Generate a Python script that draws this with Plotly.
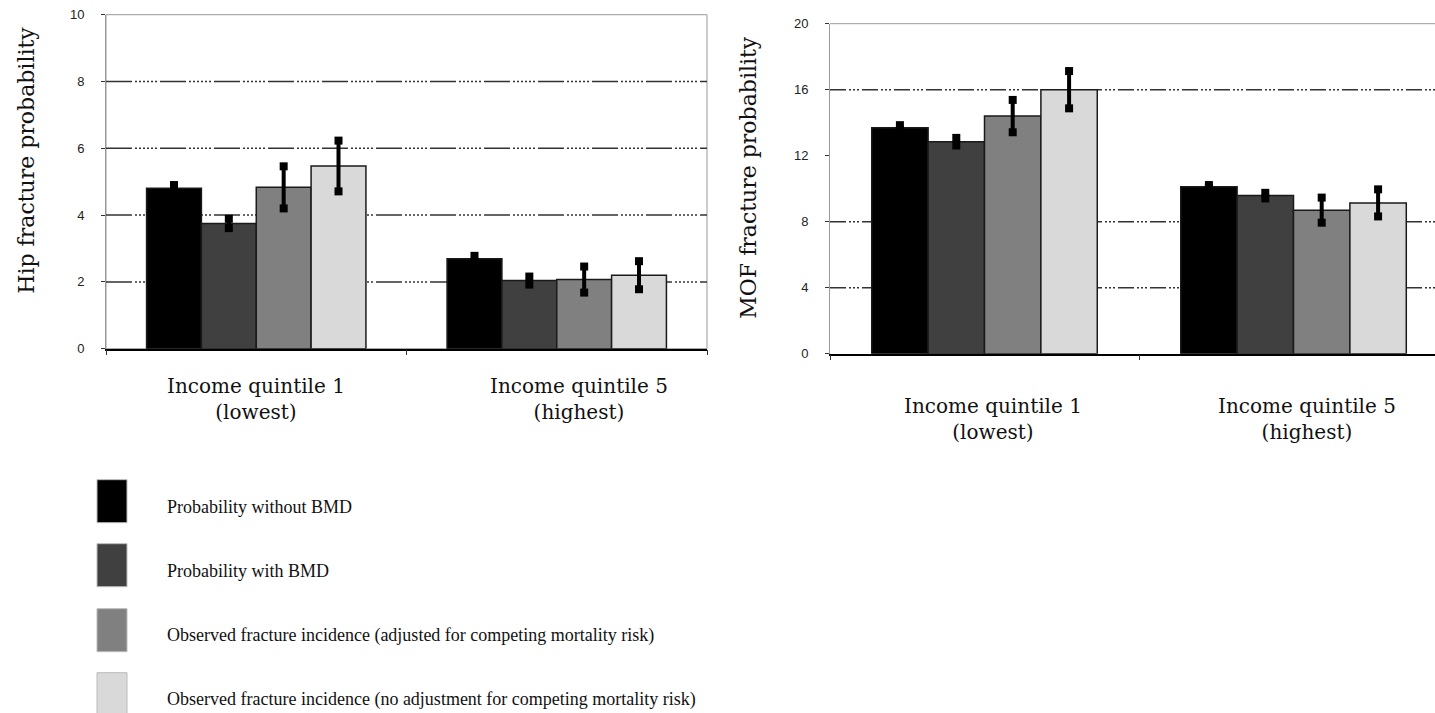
import plotly.graph_objects as go

# ---------------- data ----------------
categories = ["Income quintile 1<br>(lowest)", "Income quintile 5<br>(highest)"]
series_names = [
    "Probability without BMD",
    "Probability with BMD",
    "Observed fracture incidence (adjusted for competing mortality risk)",
    "Observed fracture incidence (no adjustment for competing mortality risk)",
]
series_colors = ["#000000", "#404040", "#808080", "#d9d9d9"]

hip_without_bmd = [4.80, 2.69]
hip_without_bmd_err = [0.10, 0.09]
hip_with_bmd = [3.75, 2.04]
hip_with_bmd_err = [0.14, 0.12]
hip_obs_adj = [4.83, 2.07]
hip_obs_adj_err = [0.63, 0.39]
hip_obs_noadj = [5.47, 2.20]
hip_obs_noadj_err = [0.76, 0.42]

mof_without_bmd = [13.70, 10.12]
mof_without_bmd_err = [0.15, 0.10]
mof_with_bmd = [12.85, 9.58]
mof_with_bmd_err = [0.23, 0.17]
mof_obs_adj = [14.40, 8.70]
mof_obs_adj_err = [0.98, 0.76]
mof_obs_noadj = [16.00, 9.14]
mof_obs_noadj_err = [1.13, 0.82]

hip_ticks = [0, 2, 4, 6, 8, 10]
mof_ticks = [0, 4, 8, 12, 16, 20]
hip_grid = [2, 4, 6, 8]
mof_grid = [4, 8, 16]

hip_series = [
    (hip_without_bmd, hip_without_bmd_err),
    (hip_with_bmd, hip_with_bmd_err),
    (hip_obs_adj, hip_obs_adj_err),
    (hip_obs_noadj, hip_obs_noadj_err),
]
mof_series = [
    (mof_without_bmd, mof_without_bmd_err),
    (mof_with_bmd, mof_with_bmd_err),
    (mof_obs_adj, mof_obs_adj_err),
    (mof_obs_noadj, mof_obs_noadj_err),
]

# ---------------- layout helpers ----------------
W, H = 1435, 713
# vertical correction for the rendering (observed y' = 7.3 + 0.979*y)
V_OFF, V_SCALE = 7.3, 0.979


def px(x):
    return x / W


def py(y):
    y_spec = (y - V_OFF) / V_SCALE
    return 1 - y_spec / H


SERIF = "DejaVu Serif"
LEGEND_FONT = "Liberation Serif"
TICK_FONT = "Liberation Sans Narrow, Liberation Sans, Arial"

fig = go.Figure()


def add_panel(series, xa, ya):
    for i, (name, color) in enumerate(zip(series_names, series_colors)):
        vals, errs = series[i]
        fig.add_trace(go.Bar(
            x=categories, y=vals, name=name, xaxis=xa, yaxis=ya,
            marker=dict(color=color, line=dict(color="#1a1a1a", width=1.5)),
            error_y=dict(type="data", array=errs, visible=True, color="#000000",
                         thickness=4, width=0),
            showlegend=False, offsetgroup=str(i), alignmentgroup=xa,
            hoverinfo="skip",
        ))
    # blocky caps at the ends of the error bars
    for i, name in enumerate(series_names):
        vals, errs = series[i]
        cx, cy = [], []
        for c, v, e in zip(categories, vals, errs):
            cx += [c, c]
            cy += [v + e, v - e]
        fig.add_trace(go.Scatter(
            x=cx, y=cy, mode="markers", xaxis=xa, yaxis=ya,
            marker=dict(symbol="square", size=8, color="#000000",
                        line=dict(width=0)),
            showlegend=False, offsetgroup=str(i), alignmentgroup=xa + "c",
            orientation="v", hoverinfo="skip", cliponaxis=False,
        ))


add_panel(hip_series, "x", "y")
add_panel(mof_series, "x2", "y2")

xaxis_common = dict(
    type="category", showline=True, linecolor="#000000", linewidth=1.5,
    ticks="outside", tickson="boundaries", ticklen=5, tickcolor="#333333",
    showticklabels=False, showgrid=False, zeroline=False, fixedrange=True,
)
yaxis_common = dict(
    showline=True, linecolor="#999999", linewidth=1, ticks="outside",
    ticklen=4, tickcolor="#333333", showgrid=False, zeroline=False,
    tickfont=dict(family=TICK_FONT, size=13, color="#222222"),
    ticklabelstandoff=14, fixedrange=True,
)

fig.update_layout(
    width=W, height=H, autosize=False,
    margin=dict(l=0, r=0, t=0, b=0),
    paper_bgcolor="white", plot_bgcolor="white",
    barmode="group", bargap=0.27, bargroupgap=0,
    scattermode="group", scattergap=0.27,
    showlegend=False,
    xaxis=dict(domain=[px(106), px(707)], anchor="y", range=[-0.5, 1.5],
               **xaxis_common),
    yaxis=dict(domain=[py(349), py(15)], anchor="x", range=[0, 10],
               tickvals=hip_ticks, **yaxis_common),
    xaxis2=dict(domain=[px(830), 1.0], anchor="y2",
                range=[-0.5, -0.5 + 605 / 309], **xaxis_common),
    yaxis2=dict(domain=[py(354), py(24)], anchor="x2", range=[0, 20],
                tickvals=mof_ticks, **yaxis_common),
)

shapes = []
# plot frames
shapes.append(dict(type="rect", xref="x domain", yref="y domain", x0=0, x1=1,
                   y0=0, y1=1, line=dict(color="#999999", width=1), layer="below"))
shapes.append(dict(type="line", xref="x2 domain", yref="y2 domain", x0=0, x1=1,
                   y0=1, y1=1, line=dict(color="#999999", width=1), layer="below"))

left_dash = "26px,3px,2px,2px,2px,2px,2px,2px,2px,2px,2px,2px,2px,3px"
right_dash = "16px,3px,2px,2px,2px,2px,2px,3px"
for v in hip_grid:
    shapes.append(dict(type="line", xref="x domain", yref="y", x0=0, x1=1,
                       y0=v, y1=v, line=dict(color="#333333", width=1.5,
                                             dash=left_dash), layer="below"))
for v in mof_grid:
    shapes.append(dict(type="line", xref="x2 domain", yref="y2", x0=0, x1=1,
                       y0=v, y1=v, line=dict(color="#333333", width=1.5,
                                             dash=right_dash), layer="below"))

annotations = []
# category labels
left_shift = [0, 22]
right_shift = [8, 13]
for c, s in zip(categories, left_shift):
    annotations.append(dict(xref="x", yref="paper", x=c, y=py(399), xshift=s,
                            text=c, showarrow=False, align="center",
                            yanchor="middle", xanchor="center",
                            font=dict(family=SERIF, size=20, color="#111111")))
for c, s in zip(categories, right_shift):
    annotations.append(dict(xref="x2", yref="paper", x=c, y=py(419), xshift=s,
                            text=c, showarrow=False, align="center",
                            yanchor="middle", xanchor="center",
                            font=dict(family=SERIF, size=20, color="#111111")))

# y-axis titles
annotations.append(dict(xref="paper", yref="paper", x=px(27), y=py(161),
                        text="Hip fracture probability", textangle=-90,
                        showarrow=False, xanchor="center", yanchor="middle",
                        font=dict(family=SERIF, size=22, color="#111111")))
annotations.append(dict(xref="paper", yref="paper", x=px(749), y=py(178),
                        text="MOF fracture probability", textangle=-90,
                        showarrow=False, xanchor="center", yanchor="middle",
                        font=dict(family=SERIF, size=22, color="#111111")))

# manual legend
legend_tops = [480, 544, 609, 673]
for name, color, top in zip(series_names, series_colors, legend_tops):
    shapes.append(dict(type="rect", xref="paper", yref="paper",
                       x0=px(97), x1=px(127), y0=py(top), y1=py(top + 43),
                       fillcolor=color, line=dict(color="#bbbbbb", width=1)))
    annotations.append(dict(xref="paper", yref="paper", x=px(165),
                            y=py(top + 27), text=name, showarrow=False,
                            xanchor="left", yanchor="middle",
                            font=dict(family=LEGEND_FONT, size=18, color="#111111")))

fig.update_layout(shapes=shapes, annotations=annotations)

fig.write_html(
    "out.html",
    config={"displayModeBar": False},
    post_script="document.body.style.margin='0';document.body.style.padding='0';"
                "document.body.style.overflow='hidden';",
)
